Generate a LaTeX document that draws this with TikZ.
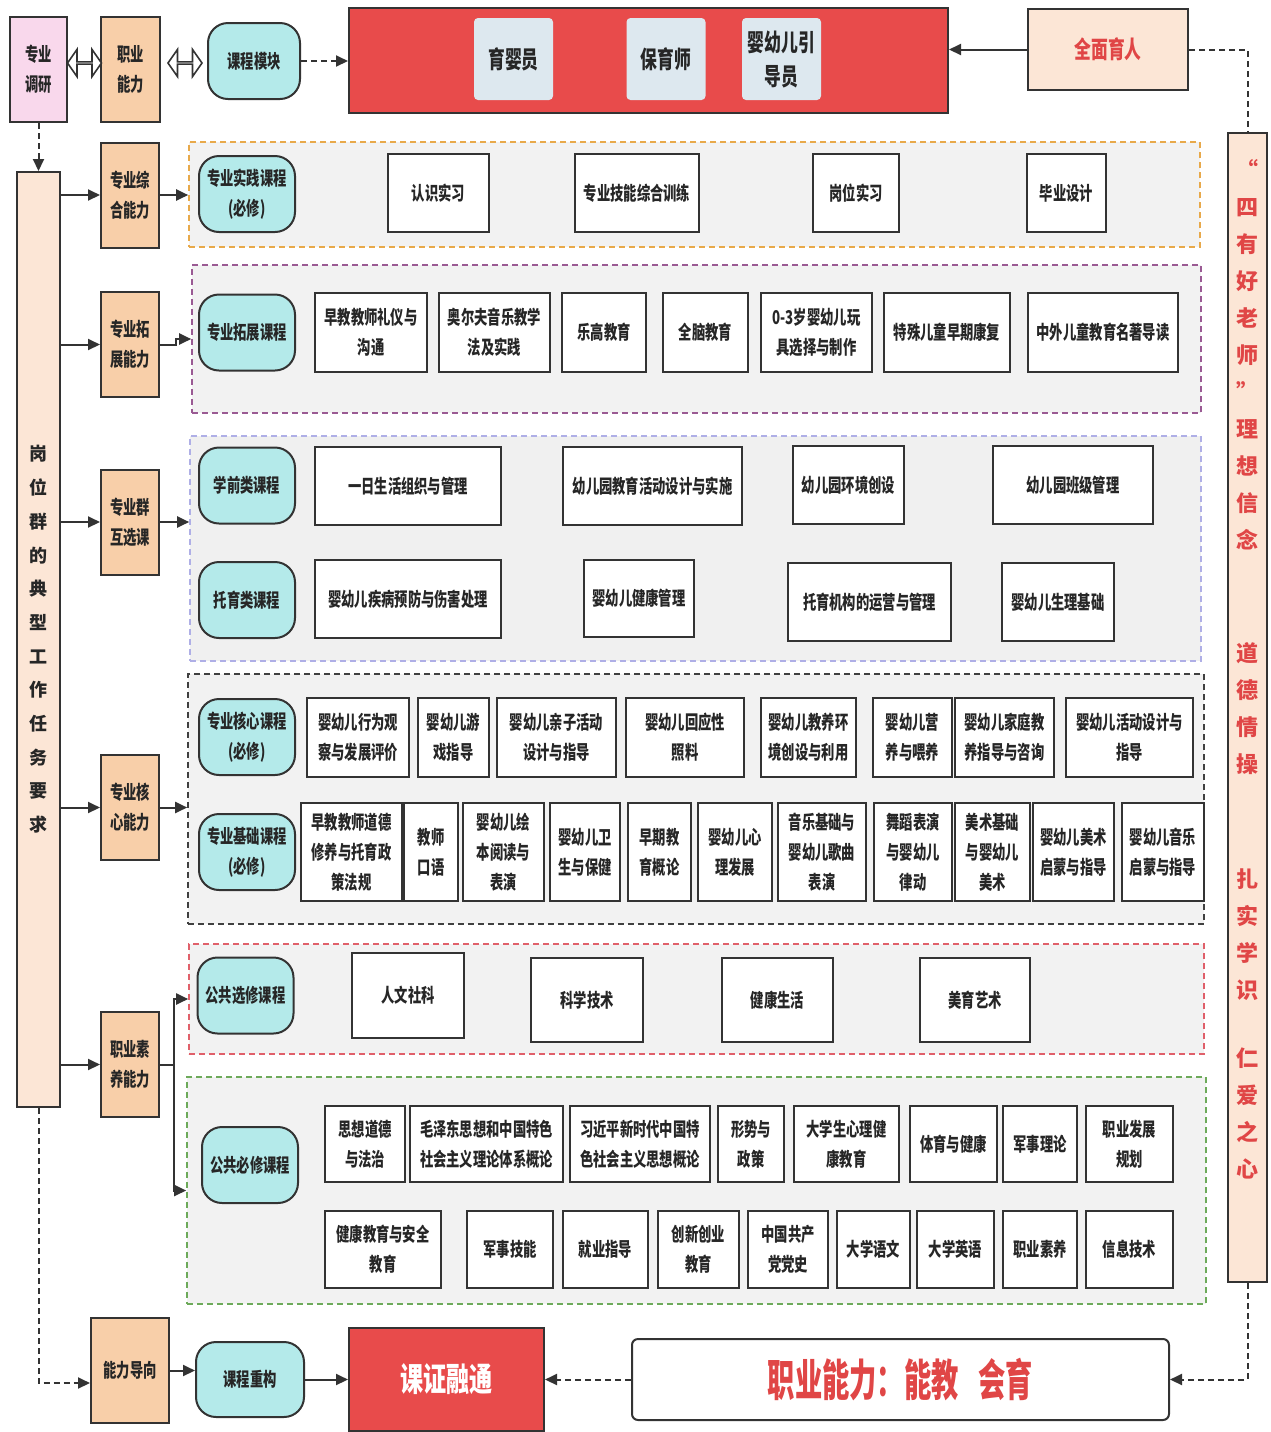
\documentclass[tikz,border=0pt]{standalone}
\usepackage{fontspec}
\setmainfont{Noto Sans CJK SC}[FakeStretch=0.7]
\newfontfamily\barfont{Noto Sans CJK SC}
\newfontfamily\bigfont{Noto Sans CJK SC}[FakeStretch=0.62]
\usetikzlibrary{shapes.arrows}
\usetikzlibrary{arrows.meta}

\definecolor{linec}{HTML}{333333}
\definecolor{txtc}{HTML}{262626}
\definecolor{pinkf}{HTML}{F9D8EC}
\definecolor{orangef}{HTML}{F8CFA9}
\definecolor{cyanf}{HTML}{B4EAEA}
\definecolor{redf}{HTML}{E84B4B}
\definecolor{jobf}{HTML}{DDE8EF}
\definecolor{peachf}{HTML}{FCE6D6}
\definecolor{redt}{HTML}{E04646}
\definecolor{bandf}{HTML}{F2F2F2}
\definecolor{bor1}{HTML}{E8A94A}
\definecolor{bor2}{HTML}{9A5A93}
\definecolor{bor3}{HTML}{AFAFE6}
\definecolor{bor4}{HTML}{404040}
\definecolor{bor5}{HTML}{E0606A}
\definecolor{bor6}{HTML}{6DAA5A}

\tikzset{
  wh/.style 2 args={minimum width=#1*0.5pt,minimum height=#2*0.5pt},
  boxbase/.style={draw=linec,line width=1pt,inner sep=0pt,align=center,%
    text=txtc,font=\fontsize{9.5}{15}\selectfont\bfseries},
  ability/.style={boxbase,fill=orangef},
  kind/.style={boxbase,fill=cyanf,rounded corners=10pt},
  course/.style={boxbase,fill=white},
  job/.style={inner sep=0pt,align=center,fill=jobf,rounded corners=2pt,%
    text=txtc,font=\fontsize{12}{17}\selectfont\bfseries},
  band/.style={dash pattern=on 3pt off 2pt,line width=0.8pt,fill=bandf,inner sep=0pt},
  arr/.style={draw=linec,line width=1pt,-{Triangle[length=6pt,width=5.5pt]}},
  darr/.style={arr,dash pattern=on 3pt off 2pt},
  dline/.style={draw=linec,line width=1pt,dash pattern=on 3pt off 2pt},
  dblarrow/.style={double arrow,draw=linec,line width=0.8pt,fill=white,inner sep=0pt,%
    minimum height=17pt,minimum width=13.5pt,double arrow head extend=4.5pt,%
    double arrow tip angle=110},
  vtext/.style={align=center,text=redt,%
    font=\barfont\fontsize{11}{18.5}\selectfont\bfseries}
}

\begin{document}
\begin{tikzpicture}[x=0.5pt,y=-0.5pt]
  % 画布范围
  \useasboundingbox (0,0) rectangle (1271,1432);

  % 虚线分区
  \node[band,draw=bor1,wh={1011}{105}] (b1) at (694.5,194.5) {};
  \node[band,draw=bor2,wh={1009}{148}] (b2) at (696.5,339) {};
  \node[band,draw=bor3,fill=black!6!white,wh={1011}{225}] (b3) at (695.5,548.5) {};
  \node[band,draw=bor4,wh={1016}{250}] (b4) at (696,799) {};
  \node[band,draw=bor5,wh={1015}{110}] (b5) at (696.5,999) {};
  \node[band,draw=bor6,wh={1019}{227}] (b6) at (696.5,1190.5) {};

  % 顶部一行
  \node[boxbase,fill=pinkf,wh={57}{105}] (zydy) at (38.5,69.5) {专业\\调研};
  \node[ability,wh={59}{105}] (zynl) at (130.5,69.5) {职业\\能力};
  \node[kind,wh={92}{76}] (kcmk) at (254,61) {课程模块};
  \node[dblarrow] (sx1) at (84.5,63) {};
  \node[dblarrow] (sx2) at (185,63) {};
  \node[draw=linec,line width=1pt,fill=redf,wh={599}{105}] (gwbox) at (648.5,60.5) {};
  \node[job,wh={79}{82}] (yyy) at (513.5,59) {育婴员};
  \node[job,wh={79}{82}] (byy) at (666,59) {保育师};
  \node[job,wh={79}{82}] (ydy) at (781.5,59) {婴幼儿引\\导员};
  \node[boxbase,fill=peachf,text=redt,font=\fontsize{12}{17}\selectfont\bfseries,%
    wh={160}{81}] (qmyr) at (1108,49.5) {全面育人};

  % 左右两侧竖条
  \node[boxbase,fill=peachf,wh={43}{935},%
    font=\barfont\fontsize{9}{16.85}\selectfont\bfseries] (gwq) at (38.5,639.5)
    {岗\\位\\群\\的\\典\\型\\工\\作\\任\\务\\要\\求};
  \node[boxbase,fill=peachf,wh={39}{1149}] (sy) at (1247.5,707.5) {};
  \node[vtext] (sy1) at (1247.5,355) {“\\四\\有\\好\\老\\师\\”\\理\\想\\信\\念};
  \node[vtext] (sy2) at (1247.5,709) {道\\德\\情\\操};
  \node[vtext] (sy3) at (1247.5,935) {扎\\实\\学\\识};
  \node[vtext] (sy4) at (1247.5,1113) {仁\\爱\\之\\心};

  % 能力
  \node[ability,wh={58}{105}] (zhnl) at (130,195) {专业综\\合能力};
  \node[ability,wh={58}{105}] (tznl) at (130,344.5) {专业拓\\展能力};
  \node[ability,wh={58}{105}] (hxk) at (130,522) {专业群\\互选课};
  \node[ability,wh={58}{105}] (hxnl) at (130,807.5) {专业核\\心能力};
  \node[ability,wh={58}{105}] (synl) at (130,1064.5) {职业素\\养能力};
  \node[ability,wh={78}{105}] (nldx) at (130,1370.5) {能力导向};

  % 课程类别
  \node[kind,wh={96}{76}] (sjkc) at (247,194) {专业实践课程\\(必修)};
  \node[kind,wh={96}{76}] (tzkc) at (247,332.5) {专业拓展课程};
  \node[kind,wh={96}{76}] (xqkc) at (247,485.5) {学前类课程};
  \node[kind,wh={96}{76}] (tykc) at (247,600) {托育类课程};
  \node[kind,wh={96}{76}] (hxkc) at (247,737) {专业核心课程\\(必修)};
  \node[kind,wh={96}{76}] (jckc) at (247,852) {专业基础课程\\(必修)};
  \node[kind,wh={96}{76}] (gxkc) at (245.5,995.5) {公共选修课程};
  \node[kind,wh={96}{76}] (gbkc) at (250,1165) {公共必修课程};
  \node[kind,wh={108}{75}] (kccg) at (250,1379.5) {课程重构};

  % 专业实践课程
  \node[course,wh={101}{78}] (rssx) at (438.5,193) {认识实习};
  \node[course,wh={124}{78}] (zyjn) at (637,193) {专业技能综合训练};
  \node[course,wh={86}{78}] (gwsx) at (856,193) {岗位实习};
  \node[course,wh={79}{78}] (bysj) at (1066.5,193) {毕业设计};

  % 专业拓展课程
  \node[course,wh={112}{79}] (zjly) at (371,332.5) {早教教师礼仪与\\沟通};
  \node[course,wh={111}{79}] (aef) at (494.5,332.5) {奥尔夫音乐教学\\法及实践};
  \node[course,wh={84}{79}] (lgjy) at (604,332.5) {乐高教育};
  \node[course,wh={85}{79}] (qnjy) at (705.5,332.5) {全脑教育};
  \node[course,wh={111}{79}] (wjzz) at (816.5,332.5) {0-3岁婴幼儿玩\\具选择与制作};
  \node[course,wh={126}{79}] (tsxe) at (947,332.5) {特殊儿童早期康复};
  \node[course,wh={150}{79}] (mzdd) at (1103,332.5) {中外儿童教育名著导读};

  % 专业群互选课
  \node[course,wh={186}{78}] (yrsh) at (408,486) {一日生活组织与管理};
  \node[course,wh={179}{78}] (jyhd) at (652.5,486) {幼儿园教育活动设计与实施};
  \node[course,wh={111}{78}] (hjcs) at (848.5,485) {幼儿园环境创设};
  \node[course,wh={160}{78}] (bjgl) at (1073,485) {幼儿园班级管理};
  \node[course,wh={186}{78}] (jbyf) at (408,599) {婴幼儿疾病预防与伤害处理};
  \node[course,wh={110}{77}] (jkgl) at (639,598.5) {婴幼儿健康管理};
  \node[course,wh={163}{78}] (yygl) at (869.5,602) {托育机构的运营与管理};
  \node[course,wh={112}{78}] (sljc) at (1058,602) {婴幼儿生理基础};

  % 专业核心课程
  \node[course,wh={102}{79}] (xwgc) at (358,737.5) {婴幼儿行为观\\察与发展评价};
  \node[course,wh={71}{79}] (yxzd) at (453.5,737.5) {婴幼儿游\\戏指导};
  \node[course,wh={119}{79}] (qzhd) at (556.5,737.5) {婴幼儿亲子活动\\设计与指导};
  \node[course,wh={118}{79}] (hyzl) at (685,737.5) {婴幼儿回应性\\照料};
  \node[course,wh={95}{79}] (jyhj) at (808.5,737.5) {婴幼儿教养环\\境创设与利用};
  \node[course,wh={79}{79}] (yywy) at (912.5,737.5) {婴幼儿营\\养与喂养};
  \node[course,wh={99}{79}] (jtjy) at (1004.5,737.5) {婴幼儿家庭教\\养指导与咨询};
  \node[course,wh={127}{79}] (hdsj) at (1129.5,737.5) {婴幼儿活动设计与\\指导};

  % 专业基础课程
  \node[course,wh={101}{98}] (ddxy) at (351.5,852) {早教教师道德\\修养与托育政\\策法规};
  \node[course,wh={54}{98}] (jsky) at (431,852) {教师\\口语};
  \node[course,wh={81}{98}] (hbyd) at (503.5,852) {婴幼儿绘\\本阅读与\\表演};
  \node[course,wh={70}{98}] (wsbj) at (585,852) {婴幼儿卫\\生与保健};
  \node[course,wh={63}{98}] (zqjy) at (659.5,852) {早期教\\育概论};
  \node[course,wh={74}{98}] (xlfz) at (735,852) {婴幼儿心\\理发展};
  \node[course,wh={88}{98}] (yyjc) at (822,852) {音乐基础与\\婴幼儿歌曲\\表演};
  \node[course,wh={78}{98}] (wdby) at (913,852) {舞蹈表演\\与婴幼儿\\律动};
  \node[course,wh={75}{98}] (msjc) at (992.5,852) {美术基础\\与婴幼儿\\美术};
  \node[course,wh={81}{98}] (msqm) at (1073.5,852) {婴幼儿美术\\启蒙与指导};
  \node[course,wh={82}{98}] (yyqm) at (1163,852) {婴幼儿音乐\\启蒙与指导};

  % 公共选修课程
  \node[course,wh={112}{85}] (rwsk) at (408,995.5) {人文社科};
  \node[course,wh={112}{84}] (kxjs) at (587,1000) {科学技术};
  \node[course,wh={111}{84}] (jksh) at (777.5,1000) {健康生活};
  \node[course,wh={110}{84}] (myys) at (975,1000) {美育艺术};

  % 公共必修课程
  \node[course,wh={80}{76}] (sxdd) at (365,1144) {思想道德\\与法治};
  \node[course,wh={153}{76}] (mzd) at (486.5,1144) {毛泽东思想和中国特色\\社会主义理论体系概论};
  \node[course,wh={140}{76}] (xjp) at (640,1144) {习近平新时代中国特\\色社会主义思想概论};
  \node[course,wh={66}{76}] (xszc) at (751,1144) {形势与\\政策};
  \node[course,wh={105}{76}] (xljk) at (846.5,1144) {大学生心理健\\康教育};
  \node[course,wh={87}{76}] (tyjk) at (953.5,1144) {体育与健康};
  \node[course,wh={74}{76}] (jsll) at (1040,1144) {军事理论};
  \node[course,wh={87}{76}] (zyfz) at (1129.5,1144) {职业发展\\规划};
  \node[course,wh={116}{77}] (aqjy) at (383,1249.5) {健康教育与安全\\教育};
  \node[course,wh={86}{77}] (jsjn) at (510,1249.5) {军事技能};
  \node[course,wh={85}{77}] (jyzd) at (605.5,1249.5) {就业指导};
  \node[course,wh={81}{77}] (cxcy) at (698.5,1249.5) {创新创业\\教育};
  \node[course,wh={80}{77}] (dsh) at (788,1249.5) {中国共产\\党党史};
  \node[course,wh={73}{77}] (dxyw) at (873.5,1249.5) {大学语文};
  \node[course,wh={77}{77}] (dxyy) at (955.5,1249.5) {大学英语};
  \node[course,wh={74}{77}] (zysy) at (1040,1249.5) {职业素养};
  \node[course,wh={87}{77}] (xxjs) at (1129.5,1249.5) {信息技术};

  % 底部一行
  \node[draw=linec,line width=1pt,fill=redf,text=white,%
    font=\fontsize{16.5}{20}\selectfont\bfseries,wh={195}{103}] (kzrt) at (446.5,1379.5) {课证融通};
  \node[draw=linec,line width=1pt,fill=white,rounded corners=3pt,text=redt,%
    font=\bigfont\fontsize{22}{26}\selectfont\bfseries,wh={537}{81}] (zynl2) at (900.5,1379.5)
    {职业能力：能教\hspace{10pt}会育};

  % 连线
  \draw[darr] (kcmk.east) -- (kcmk.east -| gwbox.west);
  \draw[arr] (qmyr.west) -- (qmyr.west -| gwbox.east);
  \draw[dline] (qmyr.east) -| (sy.north);
  \draw[darr] (zydy.south) -- (gwq.north);

  \draw[arr] (gwq.east |- zhnl.west) -- (zhnl.west);
  \draw[arr] (zhnl.east) -- (zhnl.east -| b1.west);
  \draw[arr] (gwq.east |- tznl.west) -- (tznl.west);
  \draw[arr] (tznl.east) -- ++(16,0) |- (b2.west);
  \draw[arr] (gwq.east |- hxk.west) -- (hxk.west);
  \draw[arr] (hxk.east) -- (hxk.east -| b3.west);
  \draw[arr] (gwq.east |- hxnl.west) -- (hxnl.west);
  \draw[arr] (hxnl.east) -- (hxnl.east -| b4.west);
  \draw[arr] (gwq.east |- synl.west) -- (synl.west);
  \draw[draw=linec,line width=1pt] (synl.east) -- ++(14,0) coordinate (fc);
  \draw[arr] (fc) |- (b5.west);
  \draw[arr] (fc) |- (b6.west);

  \draw[darr] (gwq.south) |- ([yshift=-6.25pt]nldx.west);
  \draw[arr] (nldx.east) -- (nldx.east -| kccg.west);
  \draw[arr] (kccg.east) -- (kzrt.west);
  \draw[darr] (zynl2.west) -- (kzrt.east);
  \draw[darr] (sy.south) |- (zynl2.east);
\end{tikzpicture}
\end{document}
